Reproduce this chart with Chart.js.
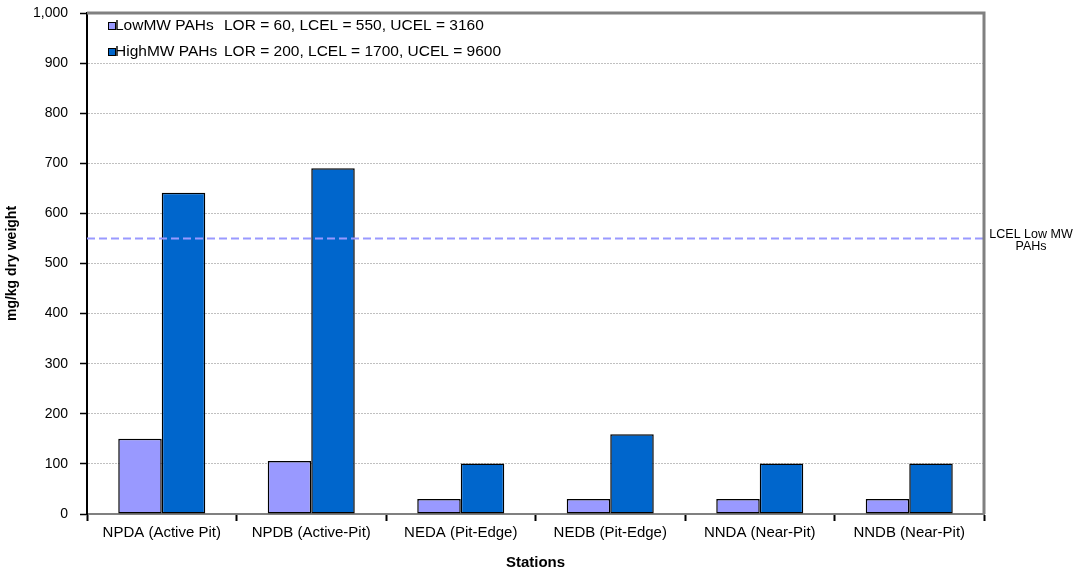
<!DOCTYPE html>
<html>
<head>
<meta charset="utf-8">
<script src="https://cdn.jsdelivr.net/npm/chart.js@4/dist/chart.umd.min.js"></script>
<style>
    html, body { margin: 0; padding: 0; background: #ffffff; }
    #wrap { width: 1076px; height: 573px; }
</style>
</head>
<body>
<div id="wrap"><canvas id="pahChart" width="1076" height="573"></canvas></div>
<script>
// Stations along the x axis
const stations = [
    'NPDA (Active Pit)',
    'NPDB (Active-Pit)',
    'NEDA (Pit-Edge)',
    'NEDB (Pit-Edge)',
    'NNDA (Near-Pit)',
    'NNDB (Near-Pit)',
];

// mg/kg dry weight
const lowMwPahs = [150, 106, 30, 30, 30, 30];
const highMwPahs = [641, 690, 101, 159, 101, 101];

const seriesLabels = ['LowMW PAHs', 'HighMW PAHs'];
const seriesNotes = ['LOR = 60, LCEL = 550, UCEL = 3160', 'LOR = 200, LCEL = 1700, UCEL = 9600'];

// LCEL threshold for low MW PAHs
const lcelLow = 550;
const lcelLabel = ['LCEL Low MW', 'PAHs'];

const yMin = 0;
const yMax = 1000;
const yStep = 100;

const FONT = "'Liberation Sans', Arial, sans-serif";

// frame, threshold line, legend drawn on top of the chart area
const extrasPlugin = {
    id: 'extras',
    afterDatasetsDraw(chart) {
        const { ctx, chartArea } = chart;
        const yScale = chart.scales.y;
        ctx.save();

        // dashed LCEL line
        const yLine = yScale.getPixelForValue(lcelLow);
        ctx.strokeStyle = '#9999ff';
        ctx.lineWidth = 2;
        ctx.setLineDash([8, 4]);
        ctx.beginPath();
        ctx.moveTo(chartArea.left, yLine);
        ctx.lineTo(chartArea.right, yLine);
        ctx.stroke();
        ctx.setLineDash([]);

        // gray top + right frame
        ctx.strokeStyle = '#808080';
        ctx.lineWidth = 3;
        ctx.beginPath();
        ctx.moveTo(chartArea.left, chartArea.top);
        ctx.lineTo(chartArea.right, chartArea.top);
        ctx.lineTo(chartArea.right, chartArea.bottom);
        ctx.stroke();

        // label right of the line
        ctx.fillStyle = '#000000';
        ctx.font = '12.5px ' + FONT;
        ctx.textAlign = 'center';
        ctx.textBaseline = 'middle';
        lcelLabel.forEach((t, i) => {
            ctx.fillText(t, chartArea.right + 47, yLine - 3.5 + i * 11.5);
        });

        // legend inside plot, top-left
        ctx.textAlign = 'left';
        ctx.font = '15.5px ' + FONT;
        chart.data.datasets.forEach((ds, i) => {
            const y = chartArea.top + 13 + i * 26;
            ctx.fillStyle = ds.backgroundColor;
            ctx.fillRect(chartArea.left + 22, y - 3, 6, 6);
            ctx.strokeStyle = '#000000';
            ctx.lineWidth = 1;
            ctx.strokeRect(chartArea.left + 21.5, y - 3.5, 7, 7);
            ctx.fillStyle = '#000000';
            ctx.fillText(seriesLabels[i], chartArea.left + 28, y);
            ctx.fillText(seriesNotes[i], chartArea.left + 137, y);
        });

        ctx.restore();
    },
};

const ctx = document.getElementById('pahChart').getContext('2d');

new Chart(ctx, {
    type: 'bar',
    data: {
        labels: stations,
        datasets: [
            {
                label: seriesLabels[0],
                data: lowMwPahs,
                backgroundColor: '#9999ff',
                borderColor: '#000000',
                borderWidth: 1.5,
                borderSkipped: false,
            },
            {
                label: seriesLabels[1],
                data: highMwPahs,
                backgroundColor: '#0066cc',
                borderColor: '#000000',
                borderWidth: 1.5,
                borderSkipped: false,
            },
        ],
    },
    options: {
        responsive: false,
        animation: false,
        layout: {
            padding: { top: 13, right: 92, left: 0, bottom: 0 },
        },
        datasets: {
            bar: {
                categoryPercentage: 0.582,
                barPercentage: 1.0,
            },
        },
        plugins: {
            legend: { display: false },
            tooltip: { enabled: false },
        },
        scales: {
            x: {
                offset: true,
                grid: {
                    offset: true,
                    drawOnChartArea: false,
                    drawTicks: true,
                    tickLength: 7,
                    tickColor: '#000000',
                    tickWidth: 2,
                },
                border: { color: '#808080', width: 2 },
                ticks: {
                    color: '#000000',
                    font: { family: FONT, size: 15 },
                    padding: 3,
                    maxRotation: 0,
                    autoSkip: false,
                },
                title: {
                    display: true,
                    text: 'Stations',
                    color: '#000000',
                    font: { family: FONT, size: 15, weight: 'bold' },
                    padding: { top: 9, bottom: 1 },
                },
                afterFit(scale) {
                    scale.height = 59;
                },
            },
            y: {
                min: yMin,
                max: yMax,
                ticks: {
                    stepSize: yStep,
                    color: '#000000',
                    font: { family: FONT, size: 14 },
                    padding: 12,
                },
                grid: {
                    color: '#c0c0c0',
                    lineWidth: 1,
                    drawTicks: true,
                    tickLength: 7,
                    tickColor: '#000000',
                    tickWidth: 1.5,
                },
                border: { color: '#000000', width: 2, dash: [2, 1] },
                title: {
                    display: true,
                    text: 'mg/kg dry weight',
                    color: '#000000',
                    font: { family: FONT, size: 14, weight: 'bold' },
                    padding: { top: 4, bottom: 4 },
                },
                afterFit(scale) {
                    scale.width = 87;
                    scale.paddingTop = 0;
                    scale.paddingBottom = 0;
                },
            },
        },
    },
    plugins: [extrasPlugin],
});
</script>
</body>
</html>
